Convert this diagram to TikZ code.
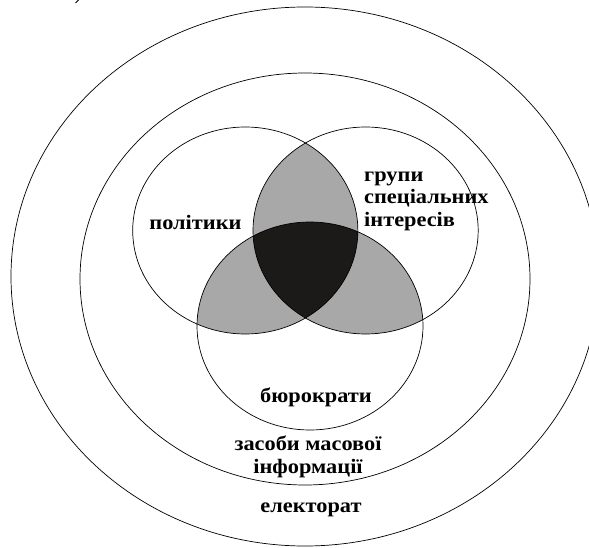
\documentclass[tikz,border=0pt]{standalone}
\usepackage{fontspec}
\setmainfont{Liberation Serif}[FakeStretch=1.09]
\definecolor{lensgray}{RGB}{168,168,168}
\definecolor{coreblack}{RGB}{28,25,25}
\tikzset{
  ring/.style={draw=black, line width=0.7pt},
  lbl/.style={font=\fontsize{20.5}{22.5}\selectfont\bfseries, inner sep=0pt, text=black},
}
\begin{document}
\begin{tikzpicture}[x=1pt,y=-1pt]
\useasboundingbox (0,0) rectangle (589,548);
\fill[white] (0,0) rectangle (589,548);
% shaded regions
\def\Lc{(245.3,230.5) ellipse [x radius=112.6, y radius=103.5]}
\def\Rc{(365.6,230.5) ellipse [x radius=112.6, y radius=103.5]}
\def\Bc{(310,326) ellipse [x radius=113, y radius=104]}
\begin{scope}\clip \Lc; \fill[lensgray] \Rc; \end{scope}
\begin{scope}\clip \Lc; \fill[lensgray] \Bc; \end{scope}
\begin{scope}\clip \Rc; \fill[lensgray] \Bc; \end{scope}
\begin{scope}\clip \Lc; \clip \Rc; \fill[coreblack] \Bc; \end{scope}
% outlines
\draw[ring] (305,276.5) ellipse [x radius=294, y radius=269.5];
\draw[ring] (305,279) ellipse [x radius=225, y radius=206];
\draw[ring] \Lc;
\draw[ring] \Rc;
\draw[ring] \Bc;
\draw[line width=0.8pt] (75.5,3) -- (78.5,0);
% labels
\node[lbl] (pol) at (195.5,222) {політики};
\node[lbl, anchor=west, align=left] (grp) at (364,201) {групи\\спеціальних\\інтересів};
\node[lbl] (bur) at (316,397) {бюрократи};
\node[lbl, align=center] (zmi) at (308,457) {засоби масової\\інформації};
\node[lbl] (el) at (311,510) {електорат};
\end{tikzpicture}
\end{document}
